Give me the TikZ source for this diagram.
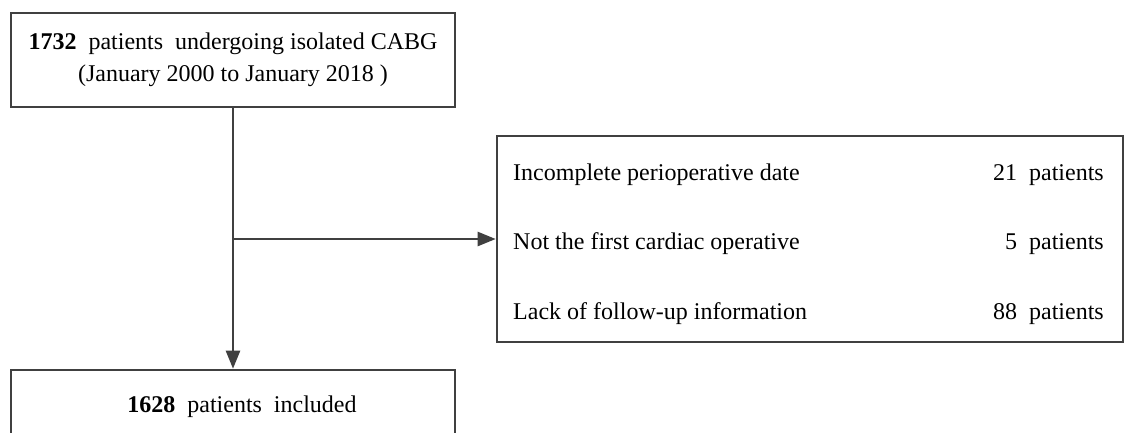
\documentclass[tikz,border=0pt]{standalone}
\usepackage{fontspec}
\setmainfont{Liberation Serif}
\usepackage{tikz}
\usetikzlibrary{
    arrows.meta,
    positioning
}

\tikzset{
    flowbox/.style={draw=black!75, line width=2.6pt, inner sep=0pt, align=center},
    flowline/.style={draw=black!75, line width=2.4pt, -{Triangle[length=18pt,width=14pt]}},
    reason/.style={anchor=base west, inner sep=0pt},
    count/.style={anchor=base east, inner sep=0pt}
}

\begin{document}
\begin{tikzpicture}[x=1pt, y=-1pt, font=\fontsize{24}{32}\selectfont]
                                \clip (0, 0) rectangle (1125, 432);
                                \fill[white] (0, 0) rectangle (1125, 432);
                                % boxes
                                \node[flowbox, minimum width=444pt, minimum height=94pt] (total) at (233, 60)
                                    {\textbf{1732}\ \ patients\ \ undergoing isolated CABG\\(January 2000 to January 2018\ )};
                                \node[flowbox, minimum width=626pt, minimum height=206pt] (excl) at (810, 239) {};
                                \node[flowbox, minimum width=444pt, minimum height=70pt] (incl) at (233, 405) {};
                                \node[anchor=base, inner sep=0pt] (incltext) at (242, 412) {\textbf{1628}\ \ patients\ \ included};
                                % reasons for exclusion
                                \node[reason] (r1) at (513, 180) {Incomplete perioperative date};
                                \node[reason] (r2) at (513, 249) {Not the first cardiac operative};
                                \node[reason] (r3) at (513, 319) {Lack of follow-up information};
                                \node[count] (n1) at (1104, 180) {21\ \ patients};
                                \node[count] (n2) at (1104, 249) {5\ \ patients};
                                \node[count] (n3) at (1104, 319) {88\ \ patients};
                                % connectors
                                \coordinate (branch) at (total.south |- excl.west);
                                \draw[flowline] (total.south) -- (incl.north);
                                \draw[flowline] (branch) -- (excl.west);
                            \end{tikzpicture}
\end{document}
